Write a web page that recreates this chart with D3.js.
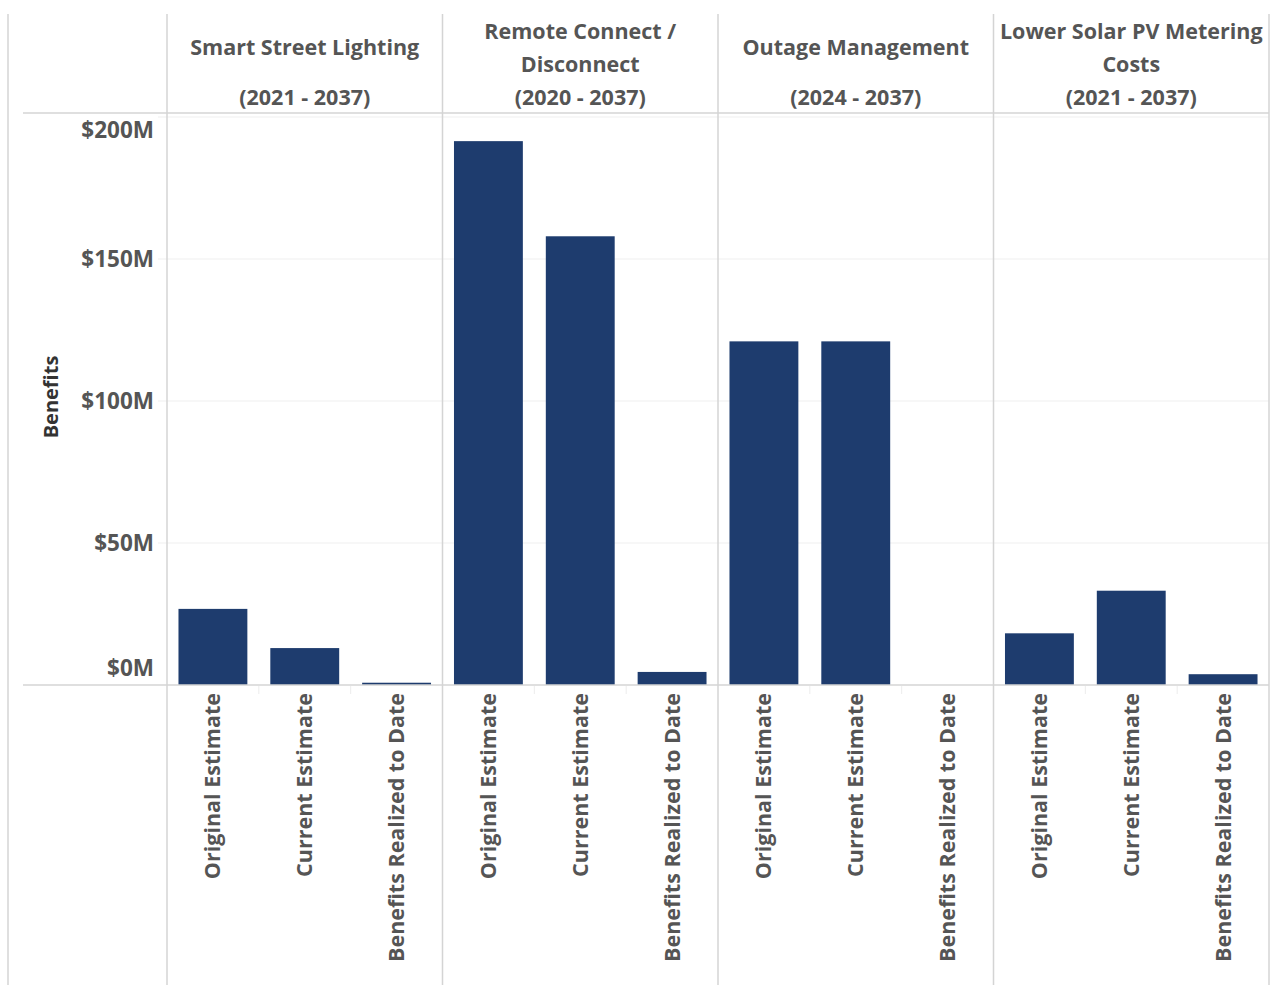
<!DOCTYPE html>
<html>
<head>
<meta charset="utf-8">
<script src="https://cdn.jsdelivr.net/npm/d3@7"></script>
<style>
  body { margin: 0; background: #fff; }
  text { font-family: "Open Sans", Lato, sans-serif; font-weight: 700; }
</style>
</head>
<body>
<div id="chart"></div>
<script>
var width = 1278,
    height = 985,
    left = 167,      // start of first pane
    right = 1269,    // end of last pane
    plotTop = 117,   // y of the $200M line
    base = 685,      // y of $0M
    textColor = "#555",
    lineColor = "#d4d4d4",
    barColor = "#1e3c6e";

// data
var programs = ["Smart Street Lighting", "Remote Connect / Disconnect", "Outage Management", "Lower Solar PV Metering Costs"];
var titleLines = [["Smart Street Lighting"], ["Remote Connect /", "Disconnect"], ["Outage Management"], ["Lower Solar PV Metering", "Costs"]];
var periods = ["(2021 - 2037)", "(2020 - 2037)", "(2024 - 2037)", "(2021 - 2037)"];
var measures = ["Original Estimate", "Current Estimate", "Benefits Realized to Date"];
var originalEstimate = [26.8, 191.5, 121, 18.2];   // $M
var currentEstimate = [13.0, 158, 121, 33.2];
var realizedToDate = [0.8, 4.6, 0, 3.8];
var yTicks = [0, 50, 100, 150, 200];

var series = [originalEstimate, currentEstimate, realizedToDate];
var rows = [];
programs.forEach(function (p, i) {
    measures.forEach(function (m, j) {
        rows.push({ program: p, measure: m, value: series[j][i] });
    });
});

var svg = d3.select("#chart").append("svg")
    .attr("width", width)
    .attr("height", height);

var x0 = d3.scaleBand().domain(programs).range([left, right]);
var x1 = d3.scaleBand().domain(measures).range([0, x0.bandwidth()])
    .paddingInner(0.25).paddingOuter(0.125);
var y = d3.scaleLinear().domain([0, 200]).range([base, plotTop]);

// gridlines
svg.append("g").selectAll("line")
    .data(yTicks.slice(1))
    .enter().append("line")
    .attr("x1", 158).attr("x2", right)
    .attr("y1", function (d) { return y(d); })
    .attr("y2", function (d) { return y(d); })
    .style("stroke", "#efefef")
    .style("stroke-width", 1);

// bars
svg.append("g").selectAll("rect")
    .data(rows)
    .enter().append("rect")
    .attr("x", function (d) { return x0(d.program) + x1(d.measure); })
    .attr("width", x1.bandwidth())
    .attr("y", function (d) { return y(d.value); })
    .attr("height", function (d) { return base - y(d.value); })
    .style("fill", barColor);

// frame lines
var frame = svg.append("g").style("stroke", lineColor).style("stroke-width", 1.5);
frame.append("line").attr("x1", 8).attr("x2", 8).attr("y1", 14).attr("y2", height);
frame.selectAll("line.sep")
    .data(programs.map(function (p) { return x0(p); }).concat([right]))
    .enter().append("line")
    .attr("class", "sep")
    .attr("x1", function (d) { return d; })
    .attr("x2", function (d) { return d; })
    .attr("y1", 14).attr("y2", height);
frame.append("line").attr("x1", 23).attr("x2", right).attr("y1", 113).attr("y2", 113);
frame.append("line").attr("x1", 23).attr("x2", right).attr("y1", base).attr("y2", base);

// faint separators between category labels
svg.append("g").selectAll("line")
    .data(rows.filter(function (d) { return d.measure !== measures[0]; }))
    .enter().append("line")
    .attr("x1", function (d) { return x0(d.program) + x1(d.measure) - x1.step() * x1.paddingInner() / 2; })
    .attr("x2", function (d) { return x0(d.program) + x1(d.measure) - x1.step() * x1.paddingInner() / 2; })
    .attr("y1", base + 1).attr("y2", base + 9)
    .style("stroke", "#ececec");

// y tick labels (end labels pulled inside, Tableau style)
svg.append("g").selectAll("text")
    .data(yTicks)
    .enter().append("text")
    .attr("x", 154)
    .attr("y", function (d) {
        if (d === 0) return y(d) - 17;
        if (d === 200) return y(d) + 13;
        return y(d);
    })
    .attr("dy", "0.35em")
    .attr("text-anchor", "end")
    .style("font-size", "22.5px")
    .style("fill", textColor)
    .text(function (d) { return "$" + d + "M"; });

// y axis title
svg.append("text")
    .attr("transform", "translate(51,397) rotate(-90)")
    .attr("dy", "0.35em")
    .attr("text-anchor", "middle")
    .style("font-size", "20px")
    .style("fill", "#333")
    .text("Benefits");

// column headers
var header = svg.append("g").selectAll("g")
    .data(programs)
    .enter().append("g")
    .attr("transform", function (d) { return "translate(" + (x0(d) + x0.bandwidth() / 2) + ",0)"; });

header.each(function (d, i) {
    var g = d3.select(this);
    var lines = titleLines[i];
    var ys = lines.length === 1 ? [47] : [31, 64];
    lines.forEach(function (t, k) {
        g.append("text").attr("y", ys[k]).attr("dy", "0.35em")
            .attr("text-anchor", "middle")
            .style("font-size", "21.5px").style("fill", textColor)
            .text(t);
    });
    g.append("text").attr("y", 97).attr("dy", "0.35em")
        .attr("text-anchor", "middle")
        .style("font-size", "21.5px").style("fill", textColor)
        .text(periods[i]);
});

// rotated category labels
svg.append("g").selectAll("text")
    .data(rows)
    .enter().append("text")
    .attr("transform", function (d) {
        var cx = x0(d.program) + x1(d.measure) + x1.bandwidth() / 2;
        return "translate(" + cx + "," + (base + 8) + ") rotate(-90)";
    })
    .attr("dy", "0.35em")
    .attr("text-anchor", "end")
    .style("font-size", "21.5px")
    .style("fill", textColor)
    .text(function (d) { return d.measure; });
</script>
</body>
</html>
